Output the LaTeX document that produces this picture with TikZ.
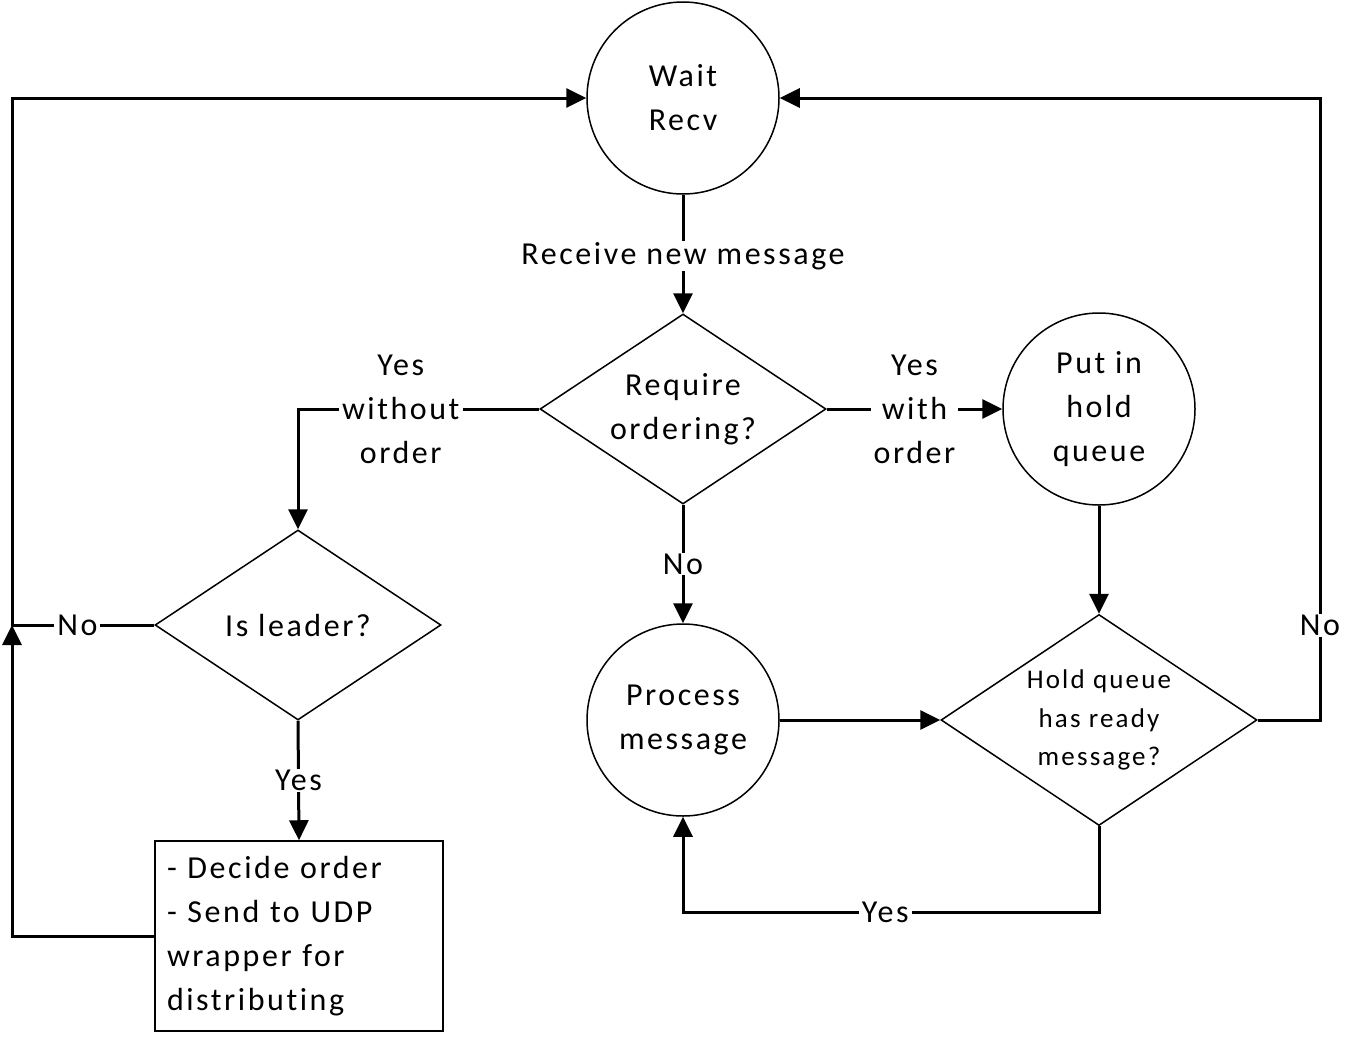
\documentclass[tikz,border=0pt]{standalone}
\usepackage{fontspec}
\setmainfont{Carlito}[LetterSpace=8,Ligatures=NoCommon]
\usetikzlibrary{shapes.geometric,arrows.meta}
\begin{document}
\begin{tikzpicture}[x=1pt,y=-1pt,
  basefont/.style={font=\fontsize{32}{44}\selectfont},
  shp/.style={draw, line width=1.5pt, basefont, align=center, fill=white},
  circ/.style={shp, circle, minimum size=192pt, inner sep=0pt},
  dia/.style={shp, diamond, aspect=1.5, minimum width=286pt, minimum height=190pt, inner sep=0pt},
  boxx/.style={shp, rectangle, minimum width=288pt, minimum height=190pt, text width=264pt, align=left, inner xsep=12pt},
  conn/.style={line width=3pt, -{Triangle[length=20pt,width=19pt]}},
  lbl/.style={fill=white, inner xsep=3pt, inner ysep=1pt, basefont, align=center}]
\useasboundingbox (0,0) rectangle (1359,1044);

\node[circ] (wait) at (683,98) {Wait\\Recv};
\node[dia] (req) at (683,409) {Require\\ordering?};
\node[circ] (hold) at (1099,409) {Put in\\hold\\queue};
\node[dia] (isl) at (298,625) {Is leader?};
\node[circ] (proc) at (683,720) {Process\\message};
\node[dia, minimum width=316pt, minimum height=211pt, font=\fontsize{27}{38.5}\selectfont] (ready) at (1099,720) {Hold queue\\has ready\\message?};
\node[boxx] (box) at (299,936) {- Decide order\\- Send to UDP\\wrapper for\\distributing};
\coordinate (jl) at (12,625);
\coordinate (jr) at (1320,720);
\coordinate (jb) at (1099,912);

\draw[conn] (wait.south) -- node[lbl, yshift=-2pt]{Receive new message} (req.north);
\draw[conn] (req.west) -| node[lbl, pos=0.287]{Yes\\without\\order} (isl.north);
\draw[conn] (req.east) -- node[lbl]{Yes\\with\\order} (hold.west);
\draw[conn] (hold.south) -- (ready.north);
\draw[conn] (ready.east) -- (jr) |- node[lbl, pos=0.076]{No} (wait.east);
\draw[conn] (ready.south) -- (jb) -| node[lbl, pos=0.257]{Yes} (proc.south);
\draw[conn] (req.south) -- node[lbl]{No} (proc.north);
\draw[conn] (proc.east) -- (ready.west);
\draw[conn] (isl.south) -- node[lbl]{Yes} (box.north);
\draw[conn] (isl.west) -- node[lbl, pos=0.54]{No} (jl) |- (wait.west);
\draw[conn] (box.west) -| (jl);
\end{tikzpicture}
\end{document}
